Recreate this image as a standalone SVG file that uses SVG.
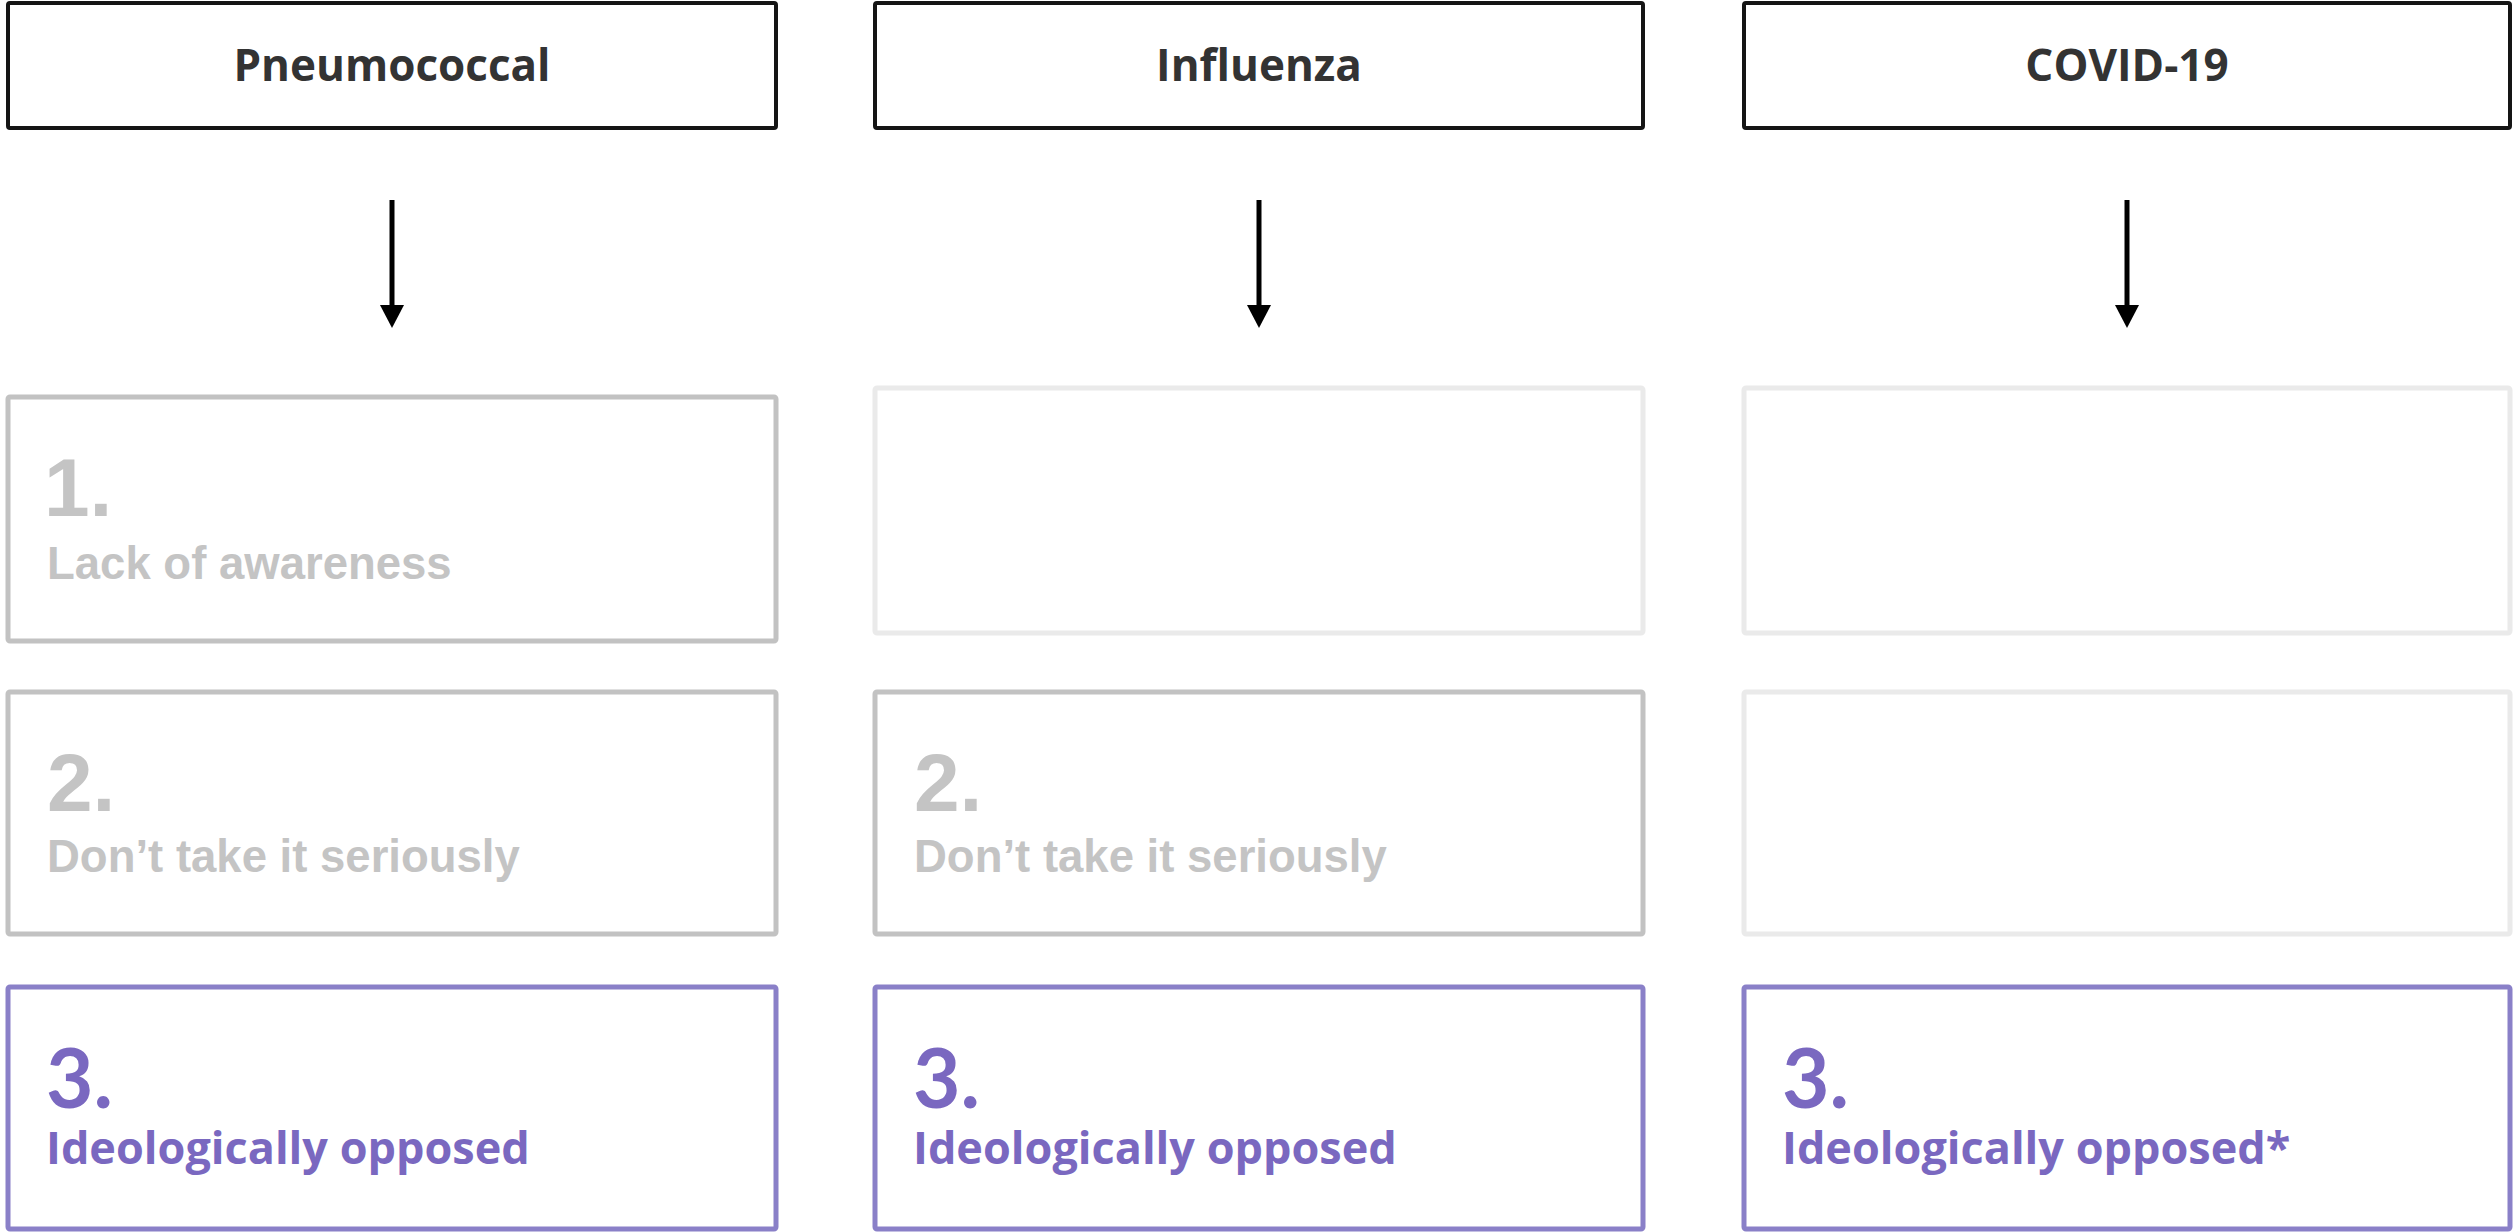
<svg xmlns="http://www.w3.org/2000/svg" width="2513" height="1232" viewBox="0 0 2513 1232">
  <defs>
    <style>
      .head { fill: #ffffff; stroke: #151515; stroke-width: 4; }
      .head-text { font-family: "Open Sans", Lato, sans-serif; font-weight: 700; font-size: 44px; fill: #333333; text-anchor: middle; }
      .gray { fill: #ffffff; stroke: #c2c2c2; stroke-width: 5; }
      .faint { fill: #ffffff; stroke: #eaeaea; stroke-width: 5; }
      .purple { fill: #ffffff; stroke: #8a80c8; stroke-width: 5; }
      .gray-text { font-family: "Liberation Sans", Arial, sans-serif; font-weight: 700; fill: #c4c4c4; }
      .num-gray { font-size: 82px; }
      .lbl-gray { font-size: 45.5px; }
      .purple-text { font-weight: 700; fill: #7a68c0; }
      .num-purple { font-family: Lato, "Open Sans", sans-serif; font-size: 82px; }
      .lbl-purple { font-family: "Open Sans", Lato, sans-serif; font-size: 45px; }
      .arrow { stroke: #000000; stroke-width: 5; fill: none; }
      .tip { fill: #000000; }
    </style>
  </defs>

  <!-- column headers -->
  <g id="header-pneumococcal">
    <rect class="head" x="8" y="3" width="768" height="125" rx="2"/>
    <text class="head-text" x="392" y="81">Pneumococcal</text>
  </g>
  <g id="header-influenza">
    <rect class="head" x="875" y="3" width="768" height="125" rx="2"/>
    <text class="head-text" x="1259" y="81">Influenza</text>
  </g>
  <g id="header-covid">
    <rect class="head" x="1744" y="3" width="766" height="125" rx="2"/>
    <text class="head-text" x="2127" y="81">COVID-19</text>
  </g>

  <!-- downward connectors -->
  <g id="connectors">
    <line class="arrow" x1="392" y1="200" x2="392" y2="306"/>
    <polygon class="tip" points="380,305 404,305 392,328"/>
    <line class="arrow" x1="1259" y1="200" x2="1259" y2="306"/>
    <polygon class="tip" points="1247,305 1271,305 1259,328"/>
    <line class="arrow" x1="2127" y1="200" x2="2127" y2="306"/>
    <polygon class="tip" points="2115,305 2139,305 2127,328"/>
  </g>

  <!-- Pneumococcal column -->
  <g id="pneumo-1">
    <rect class="gray" x="8" y="397" width="768" height="244" rx="2"/>
    <text class="gray-text"><tspan class="num-gray" x="44" y="516">1.</tspan><tspan class="lbl-gray" x="47" y="579">Lack of awareness</tspan></text>
  </g>
  <g id="pneumo-2">
    <rect class="gray" x="8" y="692" width="768" height="242" rx="2"/>
    <text class="gray-text"><tspan class="num-gray" x="47" y="811">2.</tspan><tspan class="lbl-gray" x="47" y="872">Don’t take it seriously</tspan></text>
  </g>
  <g id="pneumo-3">
    <rect class="purple" x="8" y="987" width="768" height="242" rx="2"/>
    <text class="purple-text"><tspan class="num-purple" x="46" y="1108">3.</tspan><tspan class="lbl-purple" x="46" y="1164">Ideologically opposed</tspan></text>
  </g>

  <!-- Influenza column -->
  <g id="influenza-1">
    <rect class="faint" x="875" y="388" width="768" height="245" rx="2"/>
  </g>
  <g id="influenza-2">
    <rect class="gray" x="875" y="692" width="768" height="242" rx="2"/>
    <text class="gray-text"><tspan class="num-gray" x="914" y="811">2.</tspan><tspan class="lbl-gray" x="914" y="872">Don’t take it seriously</tspan></text>
  </g>
  <g id="influenza-3">
    <rect class="purple" x="875" y="987" width="768" height="242" rx="2"/>
    <text class="purple-text"><tspan class="num-purple" x="913" y="1108">3.</tspan><tspan class="lbl-purple" x="913" y="1164">Ideologically opposed</tspan></text>
  </g>

  <!-- COVID-19 column -->
  <g id="covid-1">
    <rect class="faint" x="1744" y="388" width="766" height="245" rx="2"/>
  </g>
  <g id="covid-2">
    <rect class="faint" x="1744" y="692" width="766" height="242" rx="2"/>
  </g>
  <g id="covid-3">
    <rect class="purple" x="1744" y="987" width="766" height="242" rx="2"/>
    <text class="purple-text"><tspan class="num-purple" x="1782" y="1108">3.</tspan><tspan class="lbl-purple" x="1782" y="1164">Ideologically opposed*</tspan></text>
  </g>
</svg>
